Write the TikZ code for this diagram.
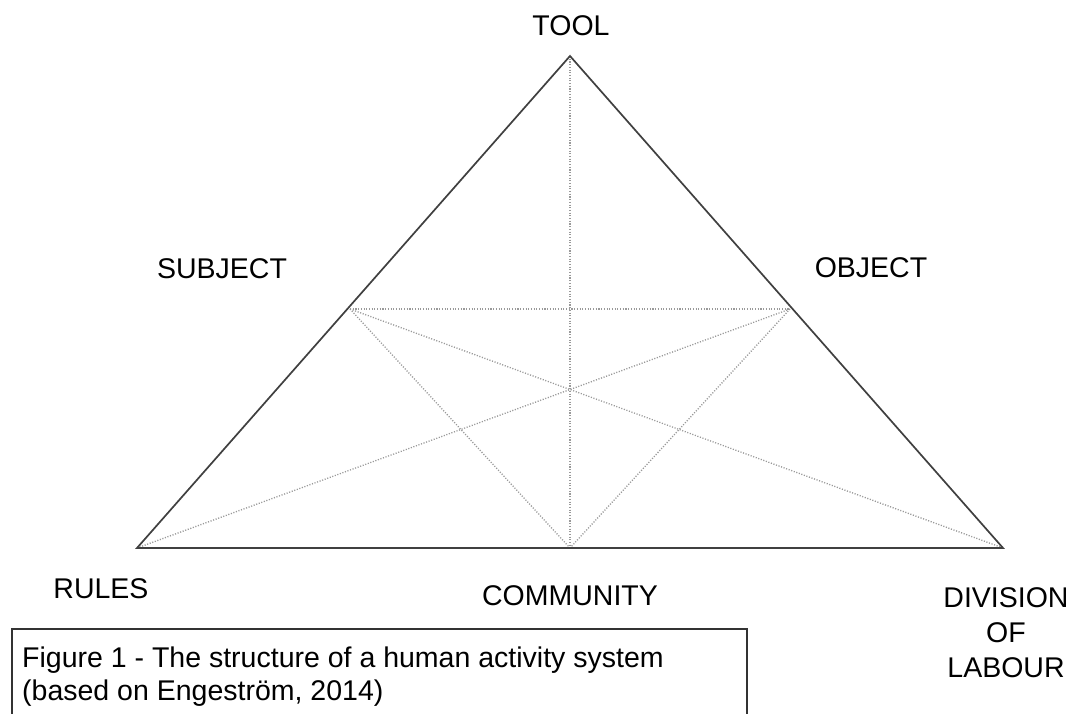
\documentclass[tikz,border=0pt]{standalone}
\usepackage{fontspec}
\setmainfont{Liberation Sans}
\begin{document}
\begin{tikzpicture}[x=1pt,y=-1pt,
  edge/.style={draw=black!75,line width=1.7pt,line join=miter},
  guide/.style={draw=black!40,line width=1.3pt,dash pattern=on 1.1pt off 1.6pt},
  lbl/.style={inner sep=0pt,font=\fontsize{28.5}{35}\selectfont},
  capbox/.style={draw=black!80,line width=2pt}]
\clip (0,0) rectangle (1074,713);
\fill[white] (0,0) rectangle (1074,713);

% corners and edge midpoints of the activity triangle
\coordinate (tool) at (570,56);
\coordinate (rules) at (137,548);
\coordinate (division) at (1003,548);
\coordinate (subject) at (350,309);
\coordinate (object) at (790,309);
\coordinate (community) at (570,548);

% inner mediating lines
\draw[guide] (tool) -- (community);
\draw[guide] (subject) -- (object);
\draw[guide] (subject) -- (community);
\draw[guide] (object) -- (community);
\draw[guide] (rules) -- (object);
\draw[guide] (subject) -- (division);

% outer triangle
\draw[edge] (tool) -- (rules) -- (division) -- cycle;

% labels
\node[lbl,anchor=base] (ltool) at (571,35) {TOOL};
\node[lbl,anchor=base] (lsubject) at (222,278) {SUBJECT};
\node[lbl,anchor=base] (lobject) at (871,277) {OBJECT};
\node[lbl,anchor=base] (lrules) at (101,598) {RULES};
\node[lbl,anchor=base] (lcommunity) at (570,605) {COMMUNITY};
\node[lbl,anchor=north,align=center] (ldivision) at (1006,587) {DIVISION\\OF\\LABOUR};

% caption box
\draw[capbox] (12,629) rectangle (747,740);
\node[inner sep=0pt,anchor=north west,align=left,
      font=\fontsize{28.5}{33}\selectfont] (caption) at (22,647)
  {Figure 1 - The structure of a human activity system\\(based on Engeström, 2014)};
\end{tikzpicture}
\end{document}
